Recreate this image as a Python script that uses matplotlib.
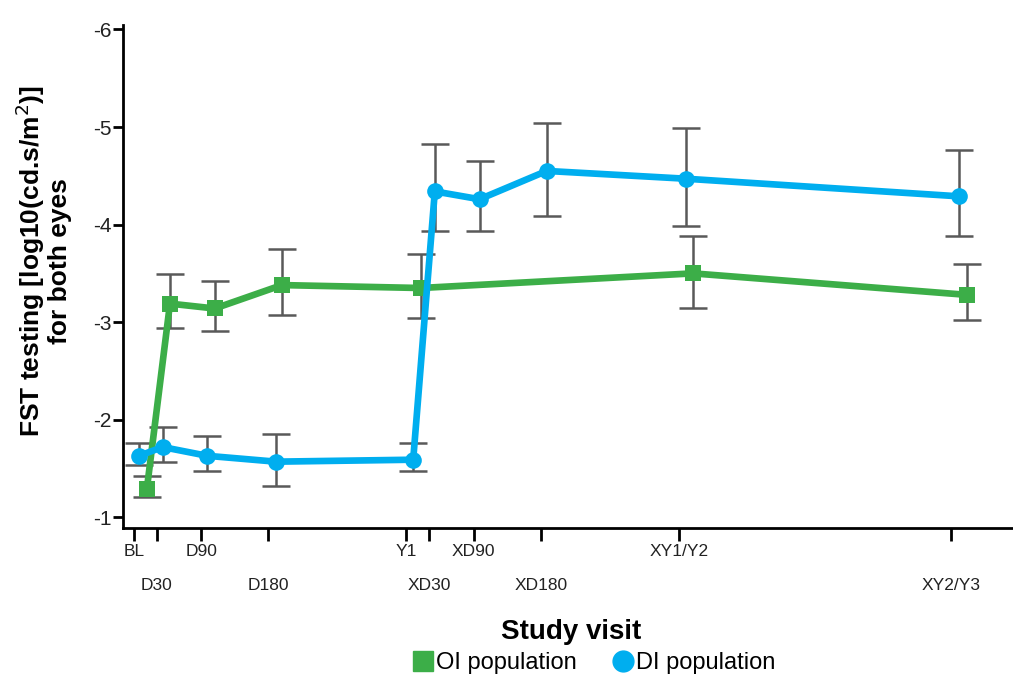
import numpy as np
import matplotlib
matplotlib.use('Agg')
import matplotlib.pyplot as plt
from matplotlib.lines import Line2D

plt.rcParams['font.family'] = ['Liberation Sans', 'DejaVu Sans']

# 访视时间（天）及刻度标签
visit_days = [0, 30, 90, 180, 365, 395, 455, 545, 730, 1095]
visit_labels = ['BL', 'D30', 'D90', 'D180', 'Y1', 'XD30', 'XD90', 'XD180', 'XY1/Y2', 'XY2/Y3']

# OI population（绿色方块）
oi_days = [17, 48, 108, 198, 384, 749, 1116]
oi_mean = [-1.29, -3.19, -3.14, -3.38, -3.35, -3.50, -3.28]
oi_top = [-1.42, -3.49, -3.42, -3.75, -3.70, -3.88, -3.60]
oi_bot = [-1.21, -2.94, -2.91, -3.07, -3.04, -3.15, -3.02]

# DI population（蓝色圆点）
di_days = [7, 38, 98, 190, 374, 403, 463, 553, 740, 1105]
di_mean = [-1.63, -1.72, -1.63, -1.57, -1.59, -4.34, -4.26, -4.55, -4.47, -4.29]
di_top = [-1.76, -1.93, -1.83, -1.85, -1.76, -4.83, -4.65, -5.04, -4.99, -4.76]
di_bot = [-1.54, -1.57, -1.47, -1.32, -1.47, -3.93, -3.93, -4.09, -3.99, -3.88]

green = '#3cae48'
blue = '#00aeef'
err_color = '#595959'


def draw_series(ax, days, mean, top, bot, color, marker, label):
    mean = np.array(mean)
    yerr = [mean - np.array(top), np.array(bot) - mean]
    ax.errorbar(days, mean, yerr=yerr, fmt='none', ecolor=err_color,
                elinewidth=1.8, capsize=10, capthick=1.8, zorder=2)
    ax.plot(days, mean, color=color, linewidth=4.8, marker=marker,
            markersize=12, markeredgewidth=0, label=label, zorder=3)


fig = plt.figure(figsize=(10.13, 6.77), dpi=100)
ax = fig.add_axes([0.1214, 0.2208, 0.8786, 0.742])

draw_series(ax, oi_days, oi_mean, oi_top, oi_bot, green, 's', 'OI population')
draw_series(ax, di_days, di_mean, di_top, di_bot, blue, 'o', 'DI population')

ax.set_xlim(-15, 1178)
ax.set_ylim(-0.895, -6.044)
ax.set_yticks([-1, -2, -3, -4, -5, -6])
ax.set_yticklabels(['-1', '-2', '-3', '-4', '-5', '-6'])

# 标签交替两行
ax.set_xticks(visit_days[0::2])
ax.set_xticklabels(visit_labels[0::2])
ax.set_xticks(visit_days[1::2], minor=True)
ax.set_xticklabels(visit_labels[1::2], minor=True)
ax.tick_params(axis='x', which='both', direction='out', length=9, width=2,
               labelsize=12.5, colors='black', labelcolor='#222222')
ax.tick_params(axis='x', which='major', pad=3)
ax.tick_params(axis='x', which='minor', pad=27)
ax.tick_params(axis='y', direction='out', length=7, width=2,
               labelsize=15, pad=1, labelcolor='#222222')

for side in ['top', 'right']:
    ax.spines[side].set_visible(False)
for side in ['left', 'bottom']:
    ax.spines[side].set_linewidth(2)

ax.set_ylabel('FST testing [log10(cd.s/m$^2$)]\nfor both eyes', fontsize=19,
              fontweight='bold', linespacing=1.05)
ax.yaxis.set_label_coords(-0.057, 0.53)
fig.text(0.5635, 0.066, 'Study visit', fontsize=20, fontweight='bold',
         ha='center', va='center')

labels = ['OI population', 'DI population']
leg_handles = [Line2D([], [], linestyle='none', marker='s', markersize=15, color=green),
               Line2D([], [], linestyle='none', marker='o', markersize=15, color=blue)]
fig.legend(leg_handles, labels, loc='center', bbox_to_anchor=(0.585, 0.021),
           ncol=2, frameon=False, fontsize=17, handletextpad=0.0,
           columnspacing=1.4, handlelength=1.1)

fig.savefig('out.png', dpi=100)
